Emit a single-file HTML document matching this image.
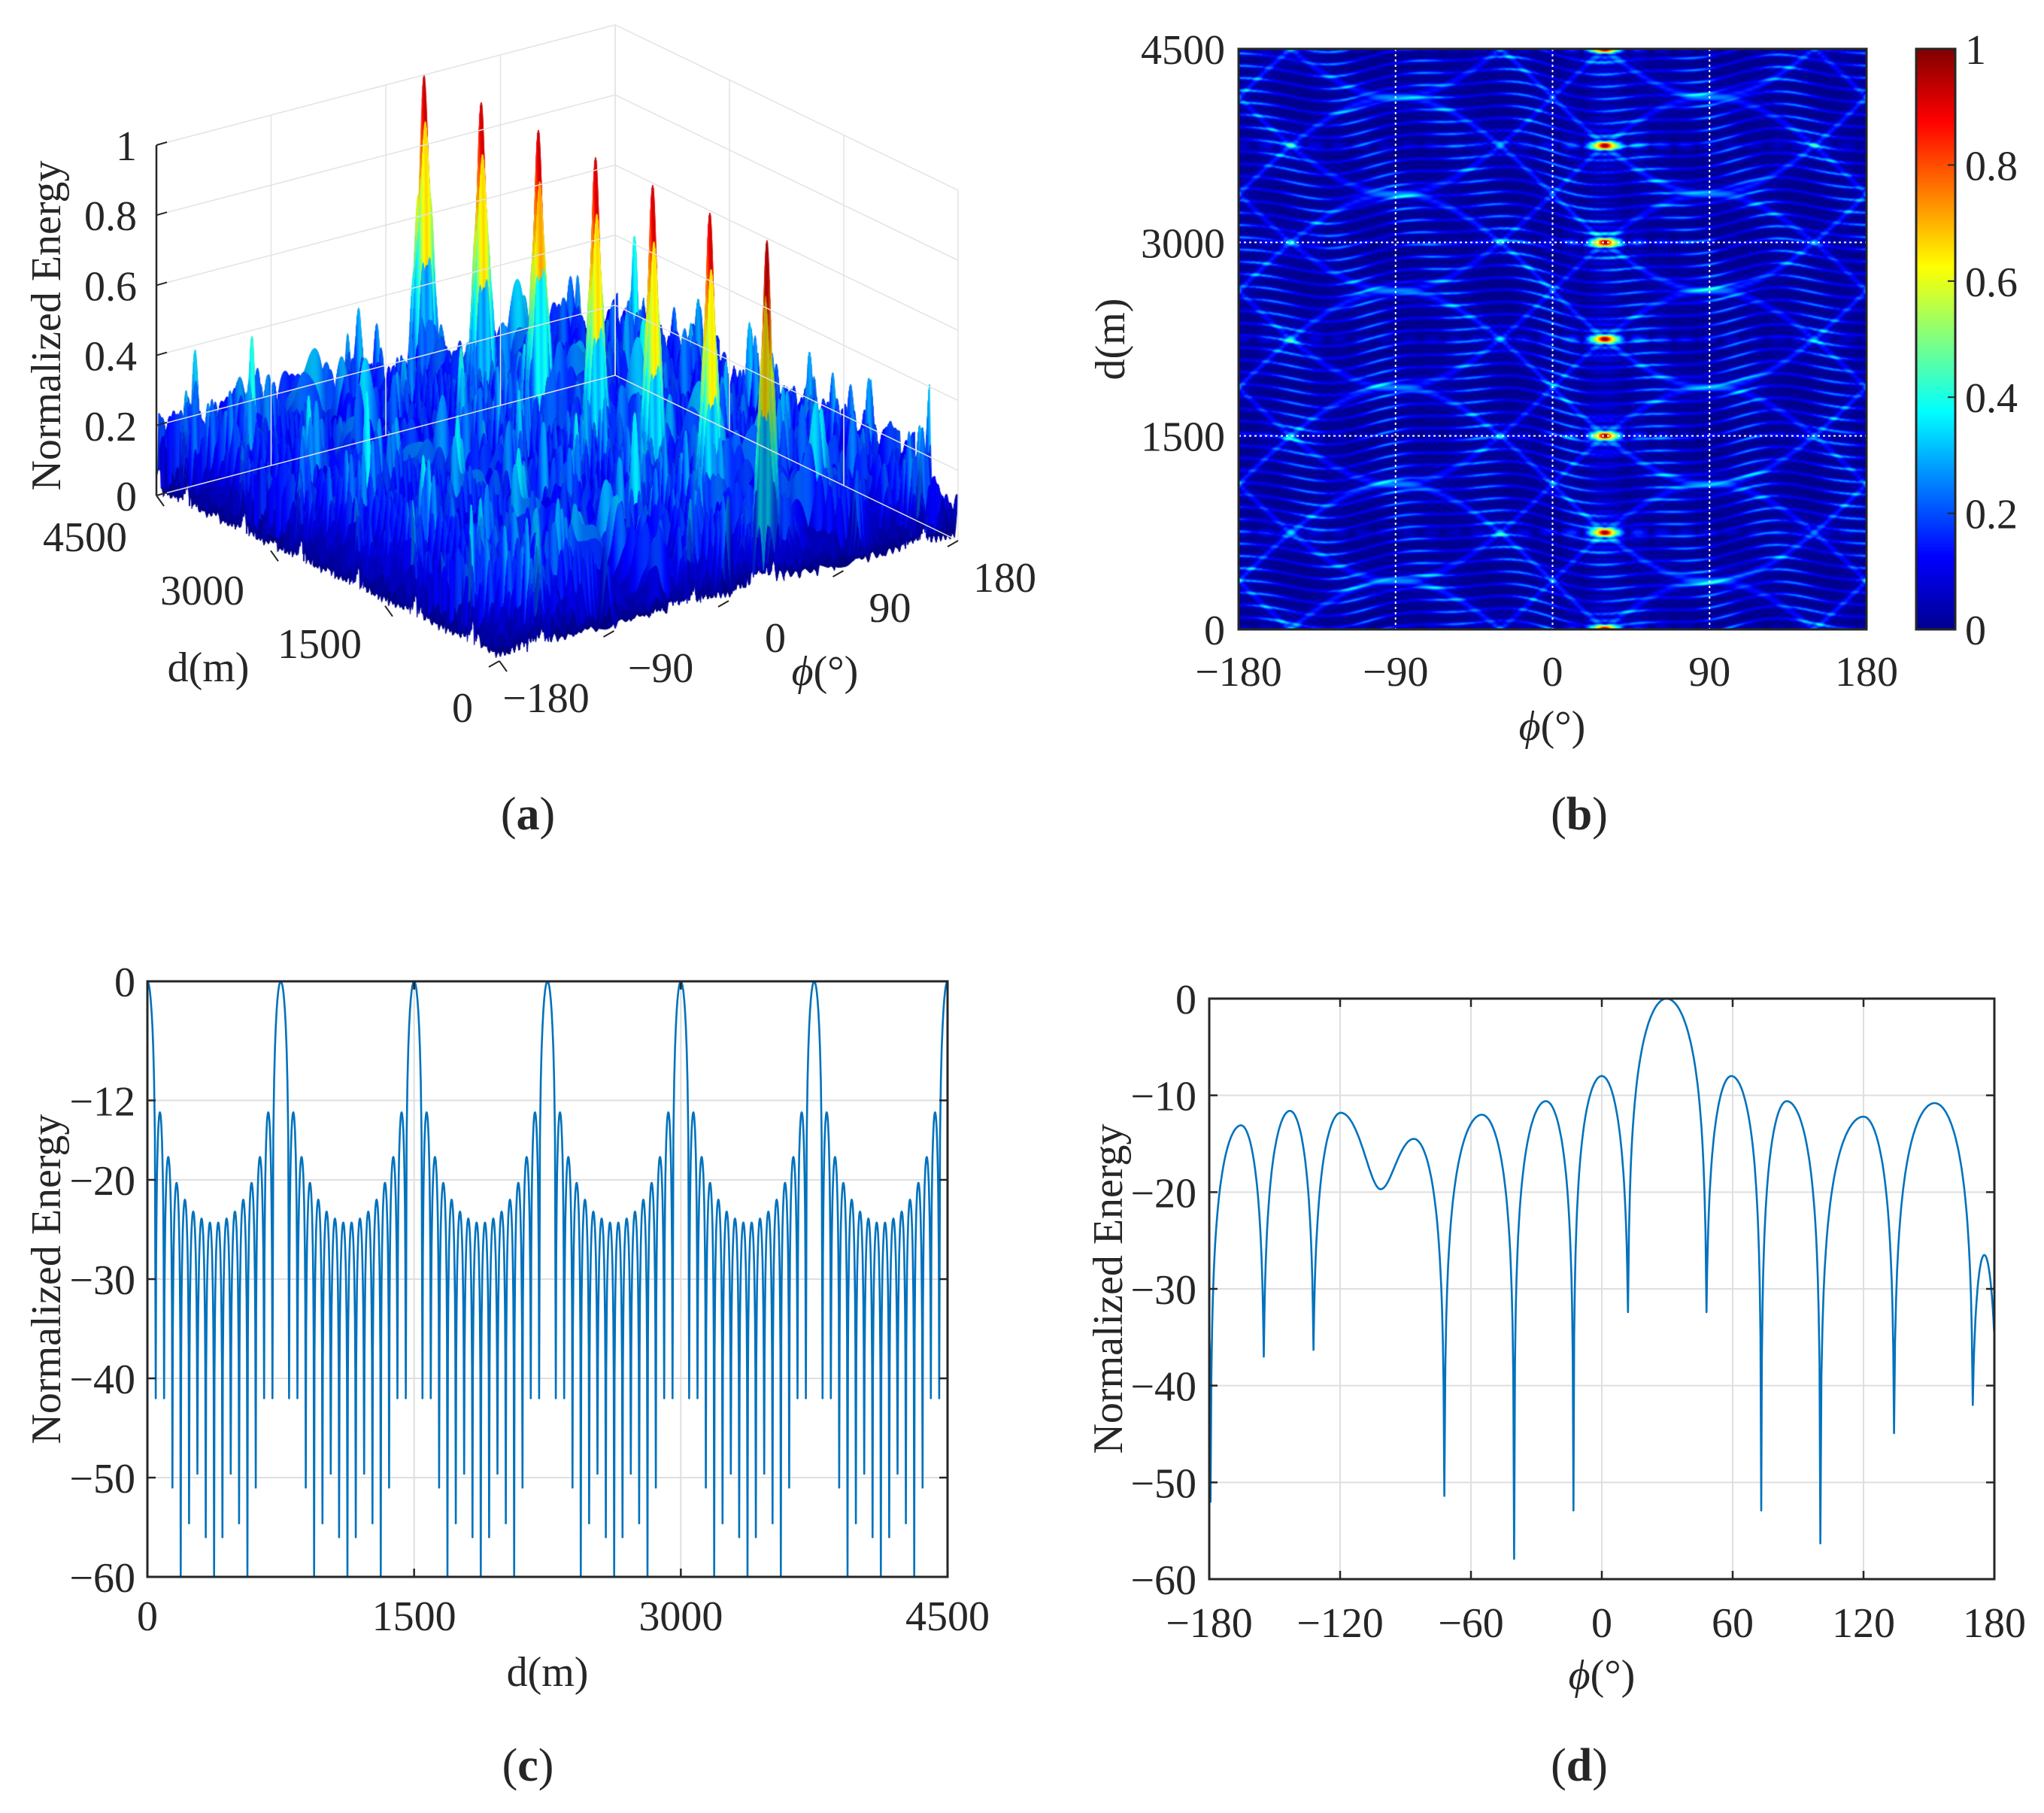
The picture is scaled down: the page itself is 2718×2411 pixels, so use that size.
<!DOCTYPE html>
<html><head><meta charset="utf-8">
<style>
html,body{margin:0;padding:0;background:#fff;}
#wrap{position:relative;width:2718px;height:2411px;overflow:hidden;background:#fff;}
canvas,svg{position:absolute;left:0;top:0;}
text{font-family:"Liberation Serif",serif;fill:#262626;}
</style></head>
<body>
<div id="wrap">
<canvas id="surf" width="1400" height="1000"></canvas>
<canvas id="heat" width="835" height="772" style="left:1647px;top:65px"></canvas>
<svg id="svg" width="2718" height="2411" viewBox="0 0 2718 2411">
<defs>
<linearGradient id="jetgrad" x1="0" y1="1" x2="0" y2="0">
<stop offset="0" stop-color="#00008f"/><stop offset="0.125" stop-color="#0000ff"/>
<stop offset="0.375" stop-color="#00ffff"/><stop offset="0.625" stop-color="#ffff00"/>
<stop offset="0.875" stop-color="#ff0000"/><stop offset="1" stop-color="#800000"/>
</linearGradient>
</defs>
<g id="gA"></g>
<g id="gB"></g>
<g id="gC"></g>
<g id="gD"></g>

<text x="61" y="433" font-size="56" text-anchor="middle" transform="rotate(-90 61 433)" dy="19">Normalized Energy</text>
<text x="277" y="906" font-size="56" text-anchor="middle">d(m)</text>
<text x="1097" y="911" font-size="56" text-anchor="middle"><tspan font-style="italic">ϕ</tspan>(°)</text>
<text x="702" y="1103" font-size="62" text-anchor="middle">(<tspan font-weight="bold">a</tspan>)</text>

<text x="1476" y="451" font-size="56" text-anchor="middle" transform="rotate(-90 1476 451)" dy="19">d(m)</text>
<text x="2064" y="984" font-size="56" text-anchor="middle"><tspan font-style="italic">ϕ</tspan>(°)</text>
<text x="2100" y="1103" font-size="62" text-anchor="middle">(<tspan font-weight="bold">b</tspan>)</text>

<text x="61" y="1701" font-size="56" text-anchor="middle" transform="rotate(-90 61 1701)" dy="19">Normalized Energy</text>
<text x="728" y="2242" font-size="56" text-anchor="middle">d(m)</text>
<text x="702" y="2368" font-size="62" text-anchor="middle">(<tspan font-weight="bold">c</tspan>)</text>

<text x="1473" y="1714" font-size="56" text-anchor="middle" transform="rotate(-90 1473 1714)" dy="19">Normalized Energy</text>
<text x="2130" y="2246" font-size="56" text-anchor="middle"><tspan font-style="italic">ϕ</tspan>(°)</text>
<text x="2100" y="2368" font-size="62" text-anchor="middle">(<tspan font-weight="bold">d</tspan>)</text>
</svg>
</div>
<script>
// ---------- data ----------
const beamPeriod = [750];          // m, spacing of range peaks
const steerPhi = [30];             // deg, beam direction
const elementCounts = [16, 16];    // range / angle aperture
const couplingCoefs = [6.283, 1.7];// angle coupling / angle aperture scale
const textureLevels = [0.24, 95];  // streak amplitude, streak spacing (m)
const zTicks = [0, 0.2, 0.4, 0.6, 0.8, 1];
const dTicks3d = [0, 1500, 3000, 4500];
const phiTicks3d = [-180, -90, 0, 90, 180];
const bYTicks = [0, 1500, 3000, 4500];
const bXTicks = [-180, -90, 0, 90, 180];
const cbTicks = [0, 0.2, 0.4, 0.6, 0.8, 1];
const cMainPeakD = [0, 750, 1500, 2250, 3000, 3750, 4500];
const cSidelobePeaks = [-13.2,-17.7,-20.3,-22,-23.2,-23.9,-24.3,-24.3,-23.9,-23.2,-22,-20.3,-17.7,-13.2];
const cNullDepths = [-42,-42,-51,-60,-54.6,-49.6,-56,-60,-56,-49.6,-54.6,-60,-51,-42,-42];
const cYTicks = [0, -12, -20, -30, -40, -50, -60];
const cXTicks = [0, 1500, 3000, 4500];
const dPhi = [-180,-179.4,-165.4,-155,-143,-132.2,-119.7,-101.4,-86.2,-72.2,-55,-40.2,-25.6,-13,0,12,29.7,48,59.4,73.1,84.8,100.2,120,134,152.6,170.1,175.4,180];
const dVal = [-35,-52,-13.1,-37,-11.6,-36.3,-11.8,-19.7,-14.5,-51.4,-12,-57.9,-10.6,-52.9,-8,-32.4,0,-32.4,-8,-52.9,-10.6,-56.3,-12.2,-44.9,-10.8,-42,-26.5,-35];
const dYTicks = [0, -10, -20, -30, -40, -50, -60];
const dXTicks = [-180, -120, -60, 0, 60, 120, 180];

const NS = 'http://www.w3.org/2000/svg';
function mk(parent, tag, attrs, txt){
  const e = document.createElementNS(NS, tag);
  for (const k in attrs) e.setAttribute(k, attrs[k]);
  if (txt !== undefined) e.textContent = txt;
  parent.appendChild(e);
  return e;
}
function fmt(v){ return (v < 0 ? '\u2212' + Math.abs(v) : String(v)); }
function jet(v){
  v = Math.max(0, Math.min(1, v));
  const c = x => Math.max(0, Math.min(1, x));
  return [c(1.5 - Math.abs(4*v - 3)), c(1.5 - Math.abs(4*v - 2)), c(1.5 - Math.abs(4*v - 1))];
}
function afn(psi, n){
  const s = Math.sin(psi/2);
  if (Math.abs(s) < 1e-6) return 1;
  return Math.abs(Math.sin(n*psi/2) / (n*s));
}
function model(d, phi){
  const pr = phi*Math.PI/180;
  const sd = Math.sin(pr) - Math.sin(steerPhi[0]*Math.PI/180);
  let dl = phi - steerPhi[0];
  dl = ((dl + 540) % 360) - 180;
  const base = 2*Math.PI*d/beamPeriod[0];
  const A = afn(base + couplingCoefs[0]*sd, elementCounts[0]);
  const B = afn(base - couplingCoefs[0]*sd, elementCounts[0]);
  const C = afn(couplingCoefs[1]*dl*Math.PI/180, elementCounts[1]);
  const P = afn(base, elementCounts[0])*C;
  const s1 = Math.pow(Math.abs(Math.cos(Math.PI*d/textureLevels[1] + 2.2*Math.sin(2*pr) + 0.7*Math.sin(5*pr))), 10);
  const s2 = Math.pow(0.5 + 0.5*Math.cos(7*pr + d/310 + 1.3*Math.sin(d/530)), 2);
  const T = textureLevels[0]*s1*(0.35 + 0.65*s2);
  return Math.min(1, 0.74*P + 0.14*A + 0.12*B + T*(1 - P));
}

// ---------- panel (b) heatmap ----------
(function(){
  const cv = document.getElementById('heat'), ctx = cv.getContext('2d');
  const W = cv.width, H = cv.height, img = ctx.createImageData(W, H);
  for (let j = 0; j < H; j++){
    const d = 4500*(1 - (j+0.5)/H);
    for (let i = 0; i < W; i++){
      const phi = -180 + 360*(i+0.5)/W;
      const c = jet(model(d, phi));
      const k = 4*(j*W + i);
      img.data[k] = c[0]*255; img.data[k+1] = c[1]*255; img.data[k+2] = c[2]*255; img.data[k+3] = 255;
    }
  }
  ctx.putImageData(img, 0, 0);
  const g = document.getElementById('gB');
  const L = 1647, R = 2482, T = 65, B = 837;
  const xs = p => L + (p + 180)/360*(R - L);
  const ys = d => B - d/4500*(B - T);
  bXTicks.forEach(p => {
    if (p > -180 && p < 180){
      const l = mk(g, 'line', {x1: xs(p), x2: xs(p), y1: T, y2: B, stroke: '#fff', 'stroke-width': 2, 'stroke-dasharray': '3 4'});
      
      
    }
    const t = mk(g, 'text', {x: xs(p), y: 912, 'font-size': 56, 'text-anchor': 'middle'}, fmt(p));
    
    
  });
  bYTicks.forEach(d => {
    if (d > 0 && d < 4500){
      const l = mk(g, 'line', {x1: L, x2: R, y1: ys(d), y2: ys(d), stroke: '#fff', 'stroke-width': 2, 'stroke-dasharray': '3 4'});
      
      
    }
    const t = mk(g, 'text', {x: 1629, y: ys(d) + 20, 'font-size': 56, 'text-anchor': 'end'}, String(d));
    
    
  });
  const fr = mk(g, 'rect', {x: L, y: T, width: R - L, height: B - T, fill: 'none', stroke: '#262626', 'stroke-width': 3});
  
  
  const cb = mk(g, 'rect', {x: 2548, y: T, width: 52, height: B - T, fill: 'url(#jetgrad)', stroke: '#262626', 'stroke-width': 3});
  
  
  cbTicks.forEach(v => {
    const y = B - v*(B - T);
    const tk = mk(g, 'line', {x1: 2590, x2: 2600, y1: y, y2: y, stroke: '#262626', 'stroke-width': 2});
    
    
    const t = mk(g, 'text', {x: 2613, y: y + 20, 'font-size': 56}, String(v));
    
    
  });
})();

// ---------- panel (a) 3D surface ----------
(function(){
  const front = [664, 879], vL = [-456, -220], vR = [610, -160], ZS = 466;
  function P(d, phi, z){
    const a = d/4500, b = (phi + 180)/360;
    return [front[0] + a*vL[0] + b*vR[0], front[1] + a*vL[1] + b*vR[1] - z*ZS];
  }
  const g = document.getElementById('gA');
  const gs = {stroke: '#e3e3e3', 'stroke-width': 1.5, fill: 'none'};
  zTicks.forEach(z => {
    const a = P(4500, -180, z), b = P(4500, 180, z), c = P(0, 180, z);
    const l = mk(g, 'polyline', Object.assign({points: a.join(',') + ' ' + b.join(',') + ' ' + c.join(',')}, gs));
    
    
  });
  phiTicks3d.forEach(p => {
    const a = P(4500, p, 0), b = P(4500, p, 1);
    const l = mk(g, 'line', Object.assign({x1: a[0], y1: a[1], x2: b[0], y2: b[1]}, gs));
    
    
  });
  dTicks3d.forEach(d => {
    const a = P(d, 180, 0), b = P(d, 180, 1);
    const l = mk(g, 'line', Object.assign({x1: a[0], y1: a[1], x2: b[0], y2: b[1]}, gs));
    
    
  });
  const cv = document.getElementById('surf'), ctx = cv.getContext('2d');
  const nd = 300, np = 720;
  const grid = [];
  for (let i = 0; i <= nd; i++){
    const row = [];
    const d = 4500*(1 - i/nd);
    for (let j = 0; j <= np; j++){
      const phi = 180 - 360*j/np;
      const z = model(d, phi);
      row.push([P(d, phi, z), z]);
    }
    grid.push(row);
  }
  ctx.lineWidth = 0.8;
  for (let i = 0; i < nd; i++){
    for (let j = 0; j < np; j++){
      const a = grid[i][j], b = grid[i][j+1], c = grid[i+1][j+1], e = grid[i+1][j];
      const zc = (a[1] + b[1] + c[1] + e[1])/4;
      const col = jet(zc);
      const sh = 0.88 + 0.12*Math.max(-1, Math.min(1, (a[1] - c[1])*6));
      const s = 'rgb(' + Math.round(col[0]*255*sh) + ',' + Math.round(col[1]*255*sh) + ',' + Math.round(col[2]*255*sh) + ')';
      ctx.fillStyle = s; ctx.strokeStyle = s;
      ctx.beginPath();
      ctx.moveTo(a[0][0], a[0][1]); ctx.lineTo(b[0][0], b[0][1]);
      ctx.lineTo(c[0][0], c[0][1]); ctx.lineTo(e[0][0], e[0][1]);
      ctx.closePath(); ctx.fill(); ctx.stroke();
    }
  }
  const z0 = P(4500, -180, 0), z1 = P(4500, -180, 1);
  const ax = mk(g, 'line', {x1: z0[0], y1: z0[1], x2: z1[0], y2: z1[1], stroke: '#262626', 'stroke-width': 2.5});
  
  
  zTicks.forEach(z => {
    const p = P(4500, -180, z);
    const tk = mk(g, 'line', {x1: p[0], y1: p[1], x2: p[0] + 14, y2: p[1] - 4, stroke: '#262626', 'stroke-width': 2});
    
    
    const t = mk(g, 'text', {x: p[0] - 26, y: p[1] + 20, 'font-size': 56, 'text-anchor': 'end'}, String(z));
    
    
  });
  const dLab = {0: [615, 960], 1500: [425, 875], 3000: [269, 804], 4500: [113, 733]};
  dTicks3d.forEach(d => {
    const p = P(d, -180, 0);
    const tk = mk(g, 'line', {x1: p[0], y1: p[1], x2: p[0] + 10, y2: p[1] + 14, stroke: '#262626', 'stroke-width': 2});
    
    
    const t = mk(g, 'text', {x: dLab[d][0], y: dLab[d][1], 'font-size': 56, 'text-anchor': 'middle'}, String(d));
    
    
  });
  phiTicks3d.forEach(p => {
    const q = P(0, p, 0);
    const tk = mk(g, 'line', {x1: q[0], y1: q[1], x2: q[0] - 14, y2: q[1] + 8, stroke: '#262626', 'stroke-width': 2});
    
    
    const t = mk(g, 'text', {x: q[0] + 62, y: q[1] + 68, 'font-size': 56, 'text-anchor': 'middle'}, fmt(p));
    
    
  });
})();

// ---------- line helpers ----------
function segPoints(x0, v0, x1, v1, n){
  const pts = [];
  const a0 = Math.pow(10, v0/20), a1 = Math.pow(10, v1/20);
  const lowFirst = v0 < v1;
  const lo = Math.min(a0, a1), hi = Math.max(a0, a1);
  const smooth = Math.min(v0, v1) > -25;
  for (let k = 1; k <= n; k++){
    const t = k/n;
    const tl = lowFirst ? t : 1 - t;
    const f = smooth ? (1 - Math.cos(Math.PI*tl))/2 : Math.sin(Math.PI*tl/2);
    const a = lo + (hi - lo)*f;
    pts.push([x0 + (x1 - x0)*t, Math.max(-60, 20*Math.log10(Math.max(a, 1e-3)))]);
  }
  return pts;
}
function axesBox(g, pre, L, R, T, B, xt, yt, xs, ys){
  xt.forEach(v => {
    const x = xs(v);
    const gl = mk(g, 'line', {x1: x, x2: x, y1: T, y2: B, stroke: '#dfdfdf', 'stroke-width': 2});
    
    
  });
  yt.forEach(v => {
    const y = ys(v);
    const gl = mk(g, 'line', {x1: L, x2: R, y1: y, y2: y, stroke: '#dfdfdf', 'stroke-width': 2});
    
    
  });
}
function axesFrame(g, pre, L, R, T, B, xt, yt, xs, ys, xlabY, ylabX, xfmt){
  const fr = mk(g, 'rect', {x: L, y: T, width: R - L, height: B - T, fill: 'none', stroke: '#262626', 'stroke-width': 3});
  
  
  xt.forEach(v => {
    const x = xs(v);
    const tk = mk(g, 'path', {d: 'M' + x + ' ' + B + 'v-11M' + x + ' ' + T + 'v11', stroke: '#262626', 'stroke-width': 2.5});
    
    
    const t = mk(g, 'text', {x: x, y: xlabY, 'font-size': 56, 'text-anchor': 'middle'}, xfmt(v));
    
    
  });
  yt.forEach(v => {
    const y = ys(v);
    const tk = mk(g, 'path', {d: 'M' + L + ' ' + y + 'h11M' + R + ' ' + y + 'h-11', stroke: '#262626', 'stroke-width': 2.5});
    
    
    const t = mk(g, 'text', {x: ylabX, y: y + 20, 'font-size': 56, 'text-anchor': 'end'}, fmt(v));
    
    
  });
}

// ---------- panel (c) ----------
(function(){
  const g = document.getElementById('gC');
  const L = 196, R = 1260, T = 1305, B = 2097;
  const xs = d => L + d/4500*(R - L);
  const ys = v => T + (-v)/60*(B - T);
  axesBox(g, 'c', L, R, T, B, cXTicks, cYTicks, xs, ys);
  const w = beamPeriod[0]/16;
  const ext = [[cMainPeakD[0], 0]];
  for (let p = 0; p < cMainPeakD.length - 1; p++){
    const c = cMainPeakD[p];
    for (let k = 0; k < cNullDepths.length; k++){
      ext.push([c + (k + 1)*w, cNullDepths[k]]);
      if (k < cSidelobePeaks.length) ext.push([c + (k + 1.5)*w, cSidelobePeaks[k]]);
    }
    ext.push([cMainPeakD[p + 1], 0]);
  }
  let pts = [ext[0]];
  for (let i = 0; i < ext.length - 1; i++){
    pts = pts.concat(segPoints(ext[i][0], ext[i][1], ext[i+1][0], ext[i+1][1], 10));
  }
  const dstr = pts.map((p, i) => (i ? 'L' : 'M') + xs(p[0]).toFixed(1) + ' ' + ys(p[1]).toFixed(1)).join('');
  const ln = mk(g, 'path', {d: dstr, fill: 'none', stroke: '#0072BD', 'stroke-width': 2.6, 'stroke-linejoin': 'round'});
  
  
  axesFrame(g, 'c', L, R, T, B, cXTicks, cYTicks, xs, ys, 2168, 180, v => String(v));
})();

// ---------- panel (d) ----------
(function(){
  const g = document.getElementById('gD');
  const L = 1608, R = 2652, T = 1328, B = 2100;
  const xs = p => L + (p + 180)/360*(R - L);
  const ys = v => T + (-v)/60*(B - T);
  axesBox(g, 'd', L, R, T, B, dXTicks, dYTicks, xs, ys);
  let pts = [[dPhi[0], dVal[0]]];
  for (let i = 0; i < dPhi.length - 1; i++){
    pts = pts.concat(segPoints(dPhi[i], dVal[i], dPhi[i+1], dVal[i+1], 40));
  }
  const dstr = pts.map((p, i) => (i ? 'L' : 'M') + xs(p[0]).toFixed(1) + ' ' + ys(p[1]).toFixed(1)).join('');
  const ln = mk(g, 'path', {d: dstr, fill: 'none', stroke: '#0072BD', 'stroke-width': 2.6, 'stroke-linejoin': 'round'});
  
  
  axesFrame(g, 'd', L, R, T, B, dXTicks, dYTicks, xs, ys, 2177, 1591, fmt);
})();
</script>
</body></html>
